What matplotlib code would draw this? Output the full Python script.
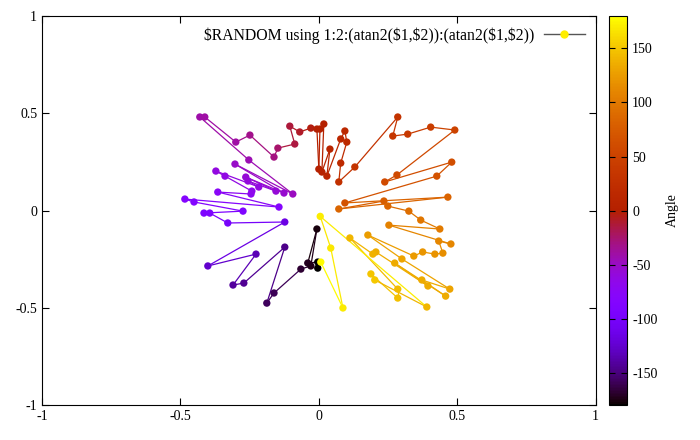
import numpy as np
import matplotlib; matplotlib.use("Agg"); import matplotlib.pyplot as plt
from matplotlib.colors import ListedColormap
from matplotlib.collections import LineCollection
from matplotlib.lines import Line2D

plt.rcParams['font.family'] = ['Liberation Serif', 'DejaVu Serif']
plt.rcParams['font.size'] = 10
plt.rcParams['axes.unicode_minus'] = False

# points in the order they are joined
px = [-0.004, -0.004, -0.040, -0.007, -0.029, -0.065, -0.162, -0.188, -0.123, -0.271,
      -0.310, -0.227, -0.401, -0.123, -0.329, -0.394, -0.415, -0.274, -0.451, -0.484,
      -0.144, -0.365, -0.245, -0.242, -0.339, -0.372, -0.217, -0.256, -0.155, -0.264,
      -0.126, -0.303, -0.094, -0.253, -0.430, -0.412, -0.300, -0.249, -0.162, -0.148,
      -0.087, -0.105, -0.069, -0.029, -0.007, 0.000, 0.004, 0.018, 0.011, 0.040,
      0.029, 0.079, 0.094, 0.101, 0.079, 0.072, 0.130, 0.285, 0.267, 0.321,
      0.404, 0.491, 0.282, 0.238, 0.480, 0.426, 0.094, 0.466, 0.072, 0.235,
      0.249, 0.325, 0.368, 0.437, 0.253, 0.477, 0.433, 0.448, 0.419, 0.375,
      0.343, 0.177, 0.300, 0.473, 0.372, 0.458, 0.274, 0.394, 0.206, 0.195,
      0.112, 0.285, 0.285, 0.188, 0.202, 0.390, 0.005, 0.043, 0.087, 0.007]
py = [-0.296, -0.265, -0.270, -0.095, -0.285, -0.301, -0.424, -0.476, -0.188, -0.373,
      -0.383, -0.224, -0.285, -0.059, -0.064, -0.013, -0.013, -0.003, 0.044, 0.059,
      0.018, 0.095, 0.085, 0.100, 0.177, 0.203, 0.121, 0.152, 0.100, 0.172,
      0.090, 0.239, 0.085, 0.260, 0.481, 0.481, 0.352, 0.388, 0.275, 0.321,
      0.342, 0.434, 0.404, 0.424, 0.419, 0.213, 0.419, 0.445, 0.198, 0.316,
      0.177, 0.368, 0.409, 0.352, 0.244, 0.147, 0.224, 0.481, 0.383, 0.393,
      0.429, 0.414, 0.183, 0.147, 0.249, 0.177, 0.039, 0.069, 0.008, 0.049,
      0.023, -0.003, -0.049, -0.095, -0.075, -0.172, -0.157, -0.219, -0.224, -0.213,
      -0.234, -0.126, -0.249, -0.404, -0.357, -0.440, -0.270, -0.388, -0.213, -0.224,
      -0.141, -0.404, -0.450, -0.326, -0.357, -0.496, -0.030, -0.193, -0.501, -0.265]
cb_ticks = [-150, -100, -50, 0, 50, 100, 150]
ax_ticks = [-1, -0.5, 0, 0.5, 1]
ax_labels = ["-1", "-0.5", "0", "0.5", "1"]

x = np.array(px); y = np.array(py)
ang = np.degrees(np.arctan2(x, y))

# gnuplot default palette (rgbformulae 7,5,15)
t = np.linspace(0, 1, 256)
pal = ListedColormap(np.c_[np.sqrt(t), t**3, np.clip(np.sin(2*np.pi*t), 0, 1)])

fig = plt.figure(figsize=(7, 4.4), dpi=100)
ax = fig.add_axes([0.06, 0.0795, 0.791, 0.884])
segs = np.stack([np.c_[x[:-1], y[:-1]], np.c_[x[1:], y[1:]]], axis=1)
lc = LineCollection(segs, cmap=pal, linewidths=0.9, zorder=2)
lc.set_array(ang[1:]); lc.set_clim(-180, 180)
ax.add_collection(lc)
sc = ax.scatter(x, y, c=ang, cmap=pal, vmin=-180, vmax=180, s=28, zorder=3, linewidths=0)

ax.set_xlim(-1, 1); ax.set_ylim(-1, 1)
ax.set_xticks(ax_ticks, ax_labels); ax.set_yticks(ax_ticks, ax_labels)
ax.tick_params(direction='in', top=True, right=True, length=5, width=0.8)
for s in ax.spines.values():
    s.set_linewidth(0.8)

key = Line2D([], [], color='#555555', lw=1, marker='o', ms=5,
             markerfacecolor='#ffee00', markeredgecolor='#ffee00')
ax.legend([key], [r"\$RANDOM using 1:2:(atan2(\$1,\$2)):(atan2(\$1,\$2))"],
          loc='upper right', frameon=False, markerfirst=False, handlelength=2.6,
          borderaxespad=0.3, fontsize=11.3, handletextpad=0.6)

cax = fig.add_axes([0.870, 0.0795, 0.026, 0.884])
cb = fig.colorbar(sc, cax=cax, ticks=cb_ticks)
cb.outline.set_linewidth(0.8)
cax.tick_params(direction='in', left=True, right=True, length=4, width=0.8)
cb.set_label("Angle", labelpad=6)

fig.savefig("out.png", dpi=100)
